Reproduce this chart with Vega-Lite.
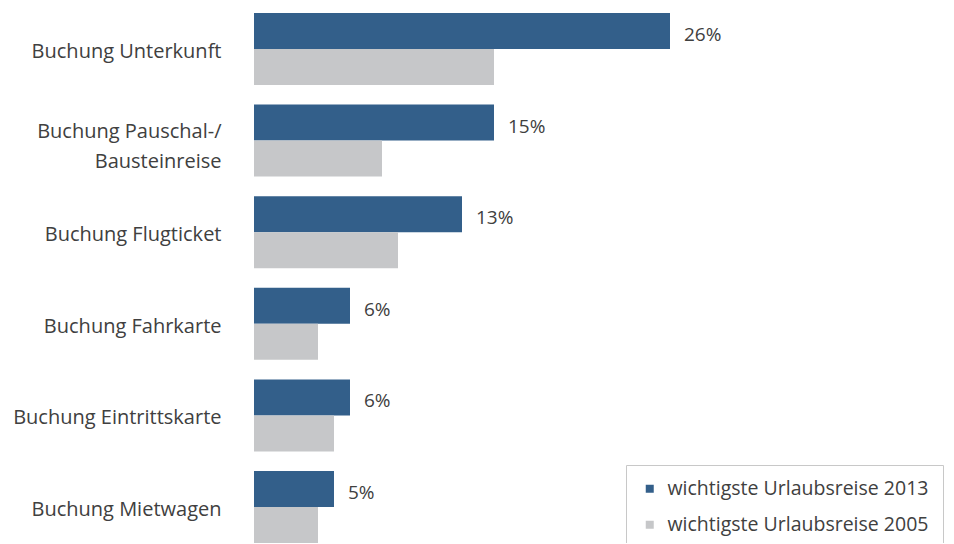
{
  "$schema": "https://vega.github.io/schema/vega-lite/v6.json",
  "width": 700,
  "height": 530,
  "autosize": "none",
  "padding": {"left": 254, "top": 13, "right": 0, "bottom": 0},
  "config": {"view": {"stroke": null}, "font": "Open Sans"},
  "data": {
    "values": [
      {"cat": "Buchung Unterkunft", "series": "wichtigste Urlaubsreise 2013", "value": 0.26},
      {"cat": "Buchung Unterkunft", "series": "wichtigste Urlaubsreise 2005", "value": 0.15},
      {"cat": "Buchung Pauschal-/|Bausteinreise", "series": "wichtigste Urlaubsreise 2013", "value": 0.15},
      {"cat": "Buchung Pauschal-/|Bausteinreise", "series": "wichtigste Urlaubsreise 2005", "value": 0.08},
      {"cat": "Buchung Flugticket", "series": "wichtigste Urlaubsreise 2013", "value": 0.13},
      {"cat": "Buchung Flugticket", "series": "wichtigste Urlaubsreise 2005", "value": 0.09},
      {"cat": "Buchung Fahrkarte", "series": "wichtigste Urlaubsreise 2013", "value": 0.06},
      {"cat": "Buchung Fahrkarte", "series": "wichtigste Urlaubsreise 2005", "value": 0.04},
      {"cat": "Buchung Eintrittskarte", "series": "wichtigste Urlaubsreise 2013", "value": 0.06},
      {"cat": "Buchung Eintrittskarte", "series": "wichtigste Urlaubsreise 2005", "value": 0.05},
      {"cat": "Buchung Mietwagen", "series": "wichtigste Urlaubsreise 2013", "value": 0.05},
      {"cat": "Buchung Mietwagen", "series": "wichtigste Urlaubsreise 2005", "value": 0.04}
    ]
  },
  "encoding": {
    "y": {
      "field": "cat", "type": "nominal", "sort": null,
      "scale": {"paddingInner": 0.214, "paddingOuter": 0},
      "axis": {
        "title": null, "domain": false, "ticks": false, "labelPadding": 33, "labelFontSize": 20, "labelColor": "#404040", "labelLimit": 300,
        "labelExpr": "split(datum.label, '|')", "labelLineHeight": 30,
        "labelOffset": {"condition": {"test": "indexof(datum.label, '|') >= 0", "value": -9}, "value": 3}
      }
    },
    "x": {"field": "value", "type": "quantitative", "scale": {"domain": [0, 0.4375]}, "axis": null},
    "yOffset": {"field": "series", "type": "nominal", "sort": ["wichtigste Urlaubsreise 2013", "wichtigste Urlaubsreise 2005"], "scale": {"paddingInner": 0, "paddingOuter": 0}}
  },
  "layer": [
    {
      "mark": {"type": "bar"},
      "encoding": {
        "color": {
          "field": "series", "type": "nominal",
          "sort": ["wichtigste Urlaubsreise 2013", "wichtigste Urlaubsreise 2005"],
          "scale": {"domain": ["wichtigste Urlaubsreise 2013", "wichtigste Urlaubsreise 2005"], "range": ["#335F8A", "#C6C7C9"]},
          "legend": {"title": null, "orient": "none", "legendX": 372, "legendY": 452, "padding": 14, "strokeColor": "#c8c8c8", "symbolType": "square", "symbolSize": 64, "symbolStrokeWidth": 0, "labelFontSize": 19.5, "labelLimit": 400, "labelColor": "#404040", "labelOffset": 8, "rowPadding": 15}
        }
      }
    },
    {
      "transform": [{"filter": "datum.series === 'wichtigste Urlaubsreise 2013'"}],
      "mark": {"type": "text", "align": "left", "baseline": "middle", "dx": 14, "dy": 4, "fontSize": 19, "color": "#404040"},
      "encoding": {"text": {"field": "value", "type": "quantitative", "format": ".0%"}}
    }
  ]
}
